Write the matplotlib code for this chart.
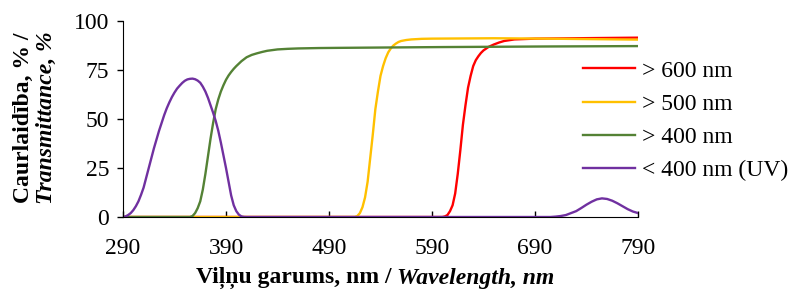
import matplotlib
matplotlib.use("Agg")
import matplotlib.pyplot as plt

# ==============================================================================
# transmittance spectra
wl_red = [290, 600, 602.5, 605, 607.5, 610, 612.5, 615, 617.5, 620, 622.5,
          625, 627.5, 630, 632.5, 635, 637.5, 640, 645, 650, 655, 660, 670,
          690, 750, 790]
t_red = [0, 0, 0.3, 1, 3, 6, 12, 22, 34, 47, 57, 66, 72, 77, 80, 82, 83.7,
         85, 86.8, 88, 89, 89.8, 90.6, 91, 91.3, 91.5]

wl_yellow = [290, 515, 517.5, 520, 522.5, 525, 527.5, 530, 532.5, 535, 537.5,
             540, 542.5, 545, 547.5, 550, 552.5, 555, 557.5, 560, 565, 570,
             580, 590, 650, 700, 790]
t_yellow = [0, 0, 0.5, 2, 5, 10, 18, 30, 42, 55, 64, 72, 77, 81, 84, 86,
            87.5, 88.5, 89.3, 89.8, 90.3, 90.6, 90.9, 91, 91.2, 91, 90.5]

wl_green = [290, 355, 357.5, 360, 362.5, 365, 367.5, 370, 372.5, 375, 377.5,
            380, 382.5, 385, 387.5, 390, 392.5, 395, 397.5, 400, 405, 410,
            415, 420, 425, 430, 440, 450, 460, 480, 500, 600, 700, 790]
t_green = [0, 0, 0.5, 2, 4.5, 8, 14, 22, 31, 40, 48, 55, 60, 64, 67.2, 70,
           72.2, 74, 75.6, 77, 79.5, 81.5, 82.7, 83.5, 84.2, 84.8, 85.5, 85.8,
           86, 86.2, 86.3, 86.7, 87, 87.2]

wl_purple = [290, 292.5, 295, 297.5, 300, 302.5, 305, 307.5, 310, 312.5, 315,
             317.5, 320, 322.5, 325, 327.5, 330, 332.5, 335, 337.5, 340,
             342.5, 345, 347.5, 350, 352.5, 355, 357.5, 360, 362.5, 365,
             367.5, 370, 372.5, 375, 377.5, 380, 382.5, 385, 387.5, 390,
             392.5, 395, 397.5, 400, 402.5, 405, 407.5, 410, 705, 710, 715,
             720, 725, 730, 735, 740, 745, 750, 755, 760, 765, 770, 775, 780,
             785, 790]
t_purple = [0, 0.3, 1, 2, 3.5, 5.5, 8, 11.3, 15, 20, 25, 30, 35, 39.5, 44, 48,
            52, 55.5, 58.5, 61.2, 63.5, 65.5, 67, 68.4, 69.5, 70.2, 70.5,
            70.6, 70.3, 69.6, 68.5, 66.5, 64, 60.8, 57, 53.2, 49, 44, 38,
            31.5, 25, 18, 11, 6, 3, 1.2, 0.3, 0.05, 0, 0, 0.2, 0.5, 1, 2, 3,
            4.6, 6.3, 7.8, 9, 9.5, 9.2, 8.3, 7, 5.5, 4, 2.8, 2]

labels = ["> 600 nm", "> 500 nm", "> 400 nm", "< 400 nm (UV)"]
colors = ["#FF0000", "#FFC000", "#548235", "#7030A0"]

x_ticks = [290, 390, 490, 590, 690, 790]
y_ticks = [0, 25, 50, 75, 100]
# ==============================================================================
plt.rcParams["font.family"] = ["Liberation Serif", "DejaVu Serif"]
plt.rcParams["font.size"] = 17

fig = plt.figure(figsize=(7.92, 2.92), dpi=100)
ax = fig.add_axes([123 / 792, 1 - 217 / 292, 515 / 792, 196 / 292])

series = [(wl_red, t_red), (wl_yellow, t_yellow), (wl_green, t_green),
          (wl_purple, t_purple)]
for (x, y), lab, col in zip(series, labels, colors):
    ax.plot(x, y, color=col, lw=1.7, label=lab, solid_joinstyle="round")

ax.set_xlim(290, 790)
ax.set_ylim(0, 100)
ax.set_xticks(x_ticks)
ax.set_yticks(y_ticks)
ax.spines["top"].set_visible(False)
ax.spines["right"].set_visible(False)
ax.tick_params(axis="x", direction="in", length=4, width=1, pad=15)
ax.tick_params(axis="y", direction="out", length=4, width=1, pad=6)

ax.legend(loc="upper left", bbox_to_anchor=(583 / 792, 1 - 60 / 292),
          bbox_transform=fig.transFigure, frameon=False, borderpad=0,
          borderaxespad=0, handlelength=2.2, handletextpad=0.3,
          labelspacing=0.5, fontsize=17)

# axis titles, mixed bold / bold italic
t1 = fig.text(196 / 792, 1 - 283 / 292, "Viļņu garums, nm /",
              fontweight="bold", ha="left", va="baseline")
ax.annotate("Wavelength, nm", xy=(1, 0), xycoords=t1, xytext=(4, 0),
            textcoords="offset points", fontweight="bold", fontstyle="italic",
            ha="left", va="bottom", annotation_clip=False)

fig.text(23 / 792, 1 - 118 / 292, "Caurlaidība, % /", fontweight="bold",
         rotation=90, ha="center", va="center")
fig.text(46 / 792, 1 - 118 / 292, "Transmittance, %", fontweight="bold",
         fontstyle="italic", rotation=90, ha="center", va="center")

plt.savefig("out.png", dpi=100)
